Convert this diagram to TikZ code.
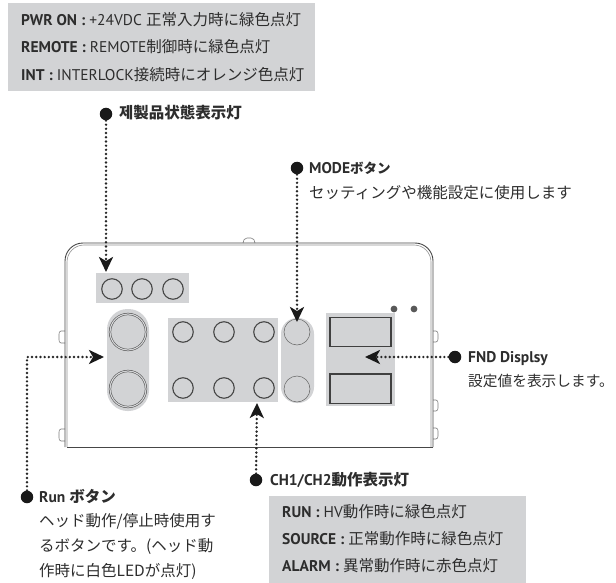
\documentclass[tikz,border=0pt]{standalone}
\usepackage{fontspec}
\setmainfont{PT Sans}
\newfontfamily\jpf{Noto Sans CJK JP}
\newcommand{\jj}[1]{{\jpf #1}}
\newcommand{\jb}[1]{{\jpf\bfseries #1}}
\newcommand{\jbs}[1]{{\jpf\bfseries\fontsize{13.5}{18}\selectfont #1}}
\usetikzlibrary{arrows.meta}
\definecolor{panelgray}{RGB}{210,211,213}
\definecolor{inktext}{RGB}{45,45,45}
\definecolor{edgegray}{RGB}{70,70,70}
\tikzset{
  x=1pt,y=-1pt,
  panel/.style={fill=panelgray,draw=none},
  lamp/.style={circle,draw=edgegray,line width=1.1pt,fill=panelgray,inner sep=0pt,minimum size=20.5pt},
  modelamp/.style={circle,draw=edgegray!85,line width=.5pt,fill=panelgray,inner sep=0pt,minimum size=26pt},
  runlamp/.style={circle,double=panelgray,draw=edgegray,line width=.5pt,double distance=1.2pt,fill=panelgray,inner sep=0pt,minimum size=36pt},
  bullet/.style={circle,fill=black!90,inner sep=0pt,minimum size=12.5pt},
  lead/.style={line width=2.7pt,black!85,line cap=round,dash pattern=on 0pt off 4.2pt,-{Stealth[inset=4pt,length=15pt,width=14pt,black!90]}},
  txt/.style={anchor=base west,inner sep=0pt,font=\fontsize{15.5}{18}\selectfont,text=inktext},
  body/.style={draw=edgegray,line width=.9pt},
  tab/.style={draw=edgegray!70,line width=.6pt},
}
\begin{document}
\begin{tikzpicture}
\useasboundingbox (0,0) rectangle (616,583);
% text panels
\fill[panel] (8,3) rectangle (315,91);
\fill[panel] (269,496) rectangle (526,583);
% body
\draw[tab] (65,331) -- ++(-4,0) to[out=180,in=90] ++(-2,3) -- ++(0,6) to[out=-90,in=180] ++(2,3) -- ++(4,0);
\draw[tab] (65,429) -- ++(-4,0) to[out=180,in=90] ++(-2,3) -- ++(0,6) to[out=-90,in=180] ++(2,3) -- ++(4,0);
\draw[tab] (433,331) -- ++(3,0) to[out=0,in=90] ++(2,3) -- ++(0,5) to[out=-90,in=0] ++(-2,3) -- ++(-3,0);
\draw[tab] (433,400) -- ++(3,0) to[out=0,in=90] ++(2,3) -- ++(0,5) to[out=-90,in=0] ++(-2,3) -- ++(-3,0);
\draw[tab] (433,428) -- ++(3,0) to[out=0,in=90] ++(2,3) -- ++(0,5) to[out=-90,in=0] ++(-2,3) -- ++(-3,0);
\draw[tab] (243,243) to[out=90,in=180] (247,238) -- (251,238) to[out=0,in=90] (255,243);
\draw[body,rounded corners=18pt] (65,447) -- (65,243) -- (433,243) -- (433,447);
\draw[body,rounded corners=3pt] (67,447) -- (433,447);
\draw[edgegray!60,line width=.6pt,rounded corners=17pt] (67,447) -- (67,245) -- (431,245) -- (431,447);
% front panels
\fill[panel] (96,273) rectangle (189,303);
\fill[panel] (168,318) rectangle (278,402);
\fill[panel,rounded corners=20.5pt] (107,309) rectangle (149,411);
\fill[panel,rounded corners=16pt] (281,318) rectangle (314,403);
\fill[panel] (326,313) rectangle (395,406);
\node[lamp] (s1) at (112,289) {};
\node[lamp] (s2) at (142,289) {};
\node[lamp] (s3) at (173,289) {};
\node[runlamp] (r1) at (128,332) {};
\node[runlamp] (r2) at (128,389) {};
\node[lamp] (c1) at (183,332) {};
\node[lamp] (c2) at (224,332) {};
\node[lamp] (c3) at (264,332) {};
\node[lamp] (c4) at (183,388) {};
\node[lamp] (c5) at (224,388) {};
\node[lamp] (c6) at (264,388) {};
\node[modelamp] (m1) at (297,332) {};
\node[modelamp] (m2) at (297,389) {};
\draw[draw=black!75,line width=1.8pt,fill=panelgray] (330,317.5) rectangle (391,346.5);
\draw[draw=black!75,line width=1.8pt,fill=panelgray] (330,374) rectangle (391,403.5);
\fill[black!65] (394,309) circle (3.4pt) (414,309) circle (3.4pt);
% bullets
\node[bullet] (b1) at (106,114) {};
\node[bullet] (b2) at (297,168) {};
\node[bullet] (b3) at (455,357) {};
\node[bullet] (b4) at (256,480) {};
\node[bullet] (b5) at (27,497) {};
\coordinate (t1) at (106,272);
\coordinate (t2) at (297,322);
\coordinate (t3) at (365,357);
\coordinate (t4) at (257,403);
\coordinate (t5) at (104,357);
\draw[lead] (b1) -- (t1);
\draw[lead] (b2) -- (t2);
\draw[lead] (b3) -- (t3);
\draw[lead] (b4) -- (t4);
\draw[lead] (b5) |- (t5);
% texts
\node[txt] (a1) at (21,26) {\textbf{PWR ON :} +24VDC \jj{正常入力時に緑色点灯}};
\node[txt] (a2) at (21,53) {\textbf{REMOTE :} REMOTE\jj{制御時に緑色点灯}};
\node[txt] (a3) at (21,81) {\textbf{INT :} INTERLOCK\jj{接続時にオレンジ色点灯}};
\node[txt] (h1) at (119,119) {\jb{제製品状態表示灯}};
\node[txt] (h2) at (309,174) {\textbf{MODE}\jbs{ボタン}};
\node[txt] (h2b) at (309,198) {\jj{セッティングや機能設定に使用します}};
\node[txt] (h3) at (468,362) {\textbf{FND Displsy}};
\node[txt,font=\fontsize{14.7}{18}\selectfont] (h3b) at (468,386) {\jj{設定値を表示します。}};
\node[txt] (h4) at (270,485) {\textbf{CH1/CH2}\jb{動作表示灯}};
\node[txt] (d1) at (282,517) {\textbf{RUN :} HV\jj{動作時に緑色点灯}};
\node[txt] (d2) at (282,544) {\textbf{SOURCE :} \jj{正常動作時に緑色点灯}};
\node[txt] (d3) at (282,571) {\textbf{ALARM :} \jj{異常動作時に赤色点灯}};
\node[txt] (h5) at (39,502) {\textbf{Run} \jb{ボタン}};
\node[txt] (h5a) at (39,526) {\jj{ヘッド動作/停止時使用す}};
\node[txt] (h5b) at (39,551) {\jj{るボタンです。(ヘッド動}};
\node[txt] (h5c) at (39,576) {\jj{作時に白色LEDが点灯)}};
\end{tikzpicture}
\end{document}
